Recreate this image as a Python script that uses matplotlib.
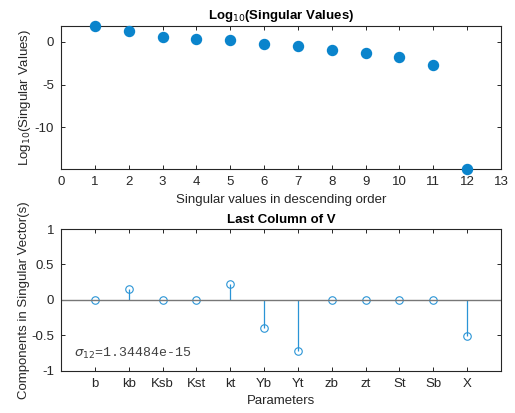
import numpy as np
import matplotlib.pyplot as plt

plt.rcParams['font.family'] = ['Liberation Sans', 'DejaVu Sans']
plt.rcParams['font.size'] = 9.5
plt.rcParams['axes.unicode_minus'] = False
plt.rcParams['axes.edgecolor'] = '#262626'
plt.rcParams['xtick.color'] = '#262626'
plt.rcParams['ytick.color'] = '#262626'
plt.rcParams['xtick.direction'] = 'in'
plt.rcParams['ytick.direction'] = 'in'
plt.rcParams['xtick.top'] = True
plt.rcParams['ytick.right'] = True
plt.rcParams['axes.linewidth'] = 0.8

blue = '#0a84cc'

# log10 of singular values, descending
sv_index = np.arange(1, 13)
log_sv = [1.79, 1.25, 0.55, 0.31, 0.15, -0.23, -0.55, -0.97, -1.36, -1.83, -2.69, -14.871]

# last column of V
params = ['b', 'kb', 'Ksb', 'Kst', 'kt', 'Yb', 'Yt', 'zb', 'zt', 'St', 'Sb', 'X']
v_last = [0.0, 0.15, 0.0, 0.0, 0.22, -0.40, -0.725, 0.0, 0.0, 0.0, 0.0, -0.51]
sigma_min = 1.34484e-15

fig = plt.figure(figsize=(5.15, 4.13), dpi=100)
ax1 = fig.add_axes([61/515, 1 - 169.3/413, 440/515, 143.6/413])
ax2 = fig.add_axes([61/515, 1 - 370.7/413, 440/515, 141.7/413])

# top: singular values
ax1.plot(sv_index, log_sv, 'o', color=blue, markersize=7.2, clip_on=False, zorder=3)
ax1.set_xlim(0, 13)
ax1.set_ylim(-14.871, 1.85)
ax1.set_xticks(range(0, 14))
ax1.set_yticks([-10, -5, 0])
ax1.set_xlabel('Singular values in descending order', labelpad=4, color='#262626')
ax1.set_ylabel('Log$_{10}$(Singular Values)', labelpad=1, color='#262626')
ax1.set_title('Log$_{10}$(Singular Values)', fontweight='bold', fontsize=9.5, pad=5)

# bottom: stem plot of last column of V
pos = np.arange(1, 13)
ml, sl, bl = ax2.stem(pos, v_last, linefmt='-', markerfmt='o', basefmt='-')
plt.setp(sl, color='#2a94d6', linewidth=0.9)
plt.setp(ml, markerfacecolor='none', markeredgecolor='#2a94d6', markersize=5.4, markeredgewidth=0.8)
plt.setp(bl, color='#777777', linewidth=1.0)
bl.set_xdata([0, 13])
ax2.set_xlim(0, 13)
ax2.set_ylim(-1, 1)
ax2.set_xticks(pos)
ax2.set_xticklabels(params)
ax2.set_yticks([-1, -0.5, 0, 0.5, 1])
ax2.set_yticklabels(['-1', '-0.5', '0', '0.5', '1'])
ax2.set_xlabel('Parameters', labelpad=4, color='#262626')
ax2.set_ylabel('Components in Singular Vector(s)', labelpad=1, color='#262626')
ax2.set_title('Last Column of V', fontweight='bold', fontsize=9.5, pad=4)
ax2.text(0.39, -0.75, r'$\sigma_{12}$=' + f'{sigma_min:g}', family=['Liberation Mono', 'DejaVu Sans Mono'],
         fontsize=9.5, color='#404040', va='center', ha='left')

for ax in (ax1, ax2):
    ax.tick_params(length=3, width=0.7, pad=5)

fig.savefig('out.png', dpi=100)
